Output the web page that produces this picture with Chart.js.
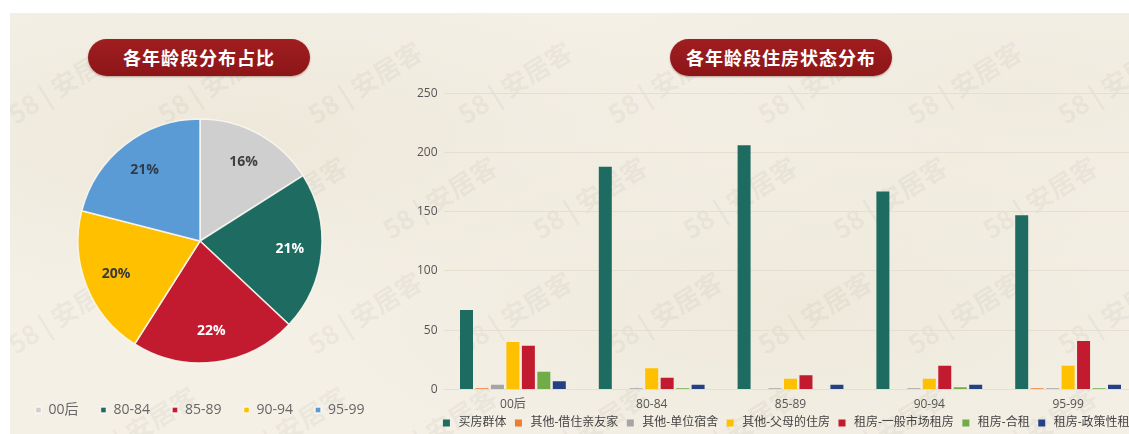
<!DOCTYPE html>
<html lang="zh-CN">
<head>
  <meta charset="UTF-8" />
  <title>各年龄段住房状态</title>
  <script src="https://cdn.jsdelivr.net/npm/chart.js"></script>
  <style>
    html, body {
      margin: 0;
      padding: 0;
      background: #fff;
    }
    body {
      width: 1129px;
      height: 434px;
      overflow: hidden;
      position: relative;
      font-family: "Noto Sans CJK SC", sans-serif;
    }
    .paper {
      position: absolute;
      left: 10px;
      top: 13px;
      right: 0;
      bottom: 0;
      overflow: hidden;
      background:
        radial-gradient(ellipse at 20% 30%, rgba(228, 220, 200, 0.4), transparent 40%),
        radial-gradient(ellipse at 70% 70%, rgba(228, 220, 200, 0.35), transparent 45%),
        radial-gradient(ellipse at 90% 20%, rgba(232, 224, 206, 0.3), transparent 35%),
        #f4f0e6;
    }
    .wm {
      position: absolute;
      color: rgba(110, 100, 90, 0.07);
      font: bold 26px "Noto Sans CJK SC", sans-serif;
      transform: rotate(-32deg);
      white-space: nowrap;
    }
    .pill {
      position: absolute;
      top: 39px;
      width: 222px;
      height: 37px;
      border-radius: 19px;
      background: linear-gradient(#a01e20, #8c1518);
      box-shadow: 0 1px 2px rgba(90, 20, 20, 0.35);
      color: #fff;
      font: bold 18px "Noto Sans CJK SC", sans-serif;
      line-height: 37px;
      text-align: center;
      letter-spacing: 1px;
    }
    #pieBox { position: absolute; left: -10px; top: 101px; }
    #barBox { position: absolute; left: 395px; top: 80px; }
  </style>
</head>
<body>
  <div class="paper" id="paper"></div>
  <div class="pill" style="left: 88px;">各年龄段分布占比</div>
  <div class="pill" style="left: 670px;">各年龄段住房状态分布</div>
  <div id="pieBox"><canvas id="pieChart" width="420" height="333"></canvas></div>
  <div id="barBox"><canvas id="barChart" width="792" height="359"></canvas></div>

  <script>
    // 年龄段
    const ageGroups = ['00后', '80-84', '85-89', '90-94', '95-99'];

    // 饼图：各年龄段占比 (%)
    const pieValues = [16, 21, 22, 20, 21];
    const pieColors = ['#d0cfcf', '#1e6b61', '#c21a2e', '#ffc000', '#5b9bd5'];
    const pieLabelColors = ['#404040', '#ffffff', '#ffffff', '#3a3a3a', '#2f3b4c'];

    // 柱状图：住房状态
    const housingTypes = ['买房群体', '其他-借住亲友家', '其他-单位宿舍', '其他-父母的住房', '租房-一般市场租房', '租房-合租', '租房-政策性租房'];
    const buyers      = [67, 188, 206, 167, 147];
    const withFriends = [1, 0, 0, 0, 1];
    const dormitory   = [4, 1, 1, 1, 1];
    const withParents = [40, 18, 9, 9, 20];
    const marketRent  = [37, 10, 12, 20, 41];
    const sharedRent  = [15, 1, 0, 2, 1];
    const policyRent  = [7, 4, 4, 4, 4];
    const barColors = ['#1e6b61', '#ed7d31', '#a5a5a5', '#ffc000', '#c21a2e', '#70ad47', '#244185'];
    const yTicks = [0, 50, 100, 150, 200, 250];

    // 水印
    const paper = document.getElementById('paper');
    for (let row = 0; row < 4; row++) {
      for (let col = 0; col < 9; col++) {
        const wm = document.createElement('div');
        wm.className = 'wm';
        wm.textContent = '58 | 安居客';
        wm.style.left = (col * 150 - 10 + (row % 2) * 75) + 'px';
        wm.style.top = (row * 115 + 50) + 'px';
        paper.appendChild(wm);
      }
    }

    const fontFamily = '"Open Sans", "Noto Sans CJK SC", sans-serif';

    // 饼图百分比标签
    const pieLabels = {
      id: 'pieLabels',
      afterDatasetsDraw(chart) {
        const ctx = chart.ctx;
        const meta = chart.getDatasetMeta(0);
        ctx.save();
        ctx.font = 'bold 14px ' + fontFamily;
        ctx.textAlign = 'center';
        ctx.textBaseline = 'middle';
        meta.data.forEach((arc, i) => {
          const p = arc.getProps(['x', 'y', 'startAngle', 'endAngle', 'outerRadius'], true);
          const mid = (p.startAngle + p.endAngle) / 2;
          const r = p.outerRadius * 0.74;
          ctx.fillStyle = pieLabelColors[i];
          ctx.fillText(pieValues[i] + '%', p.x + Math.cos(mid) * r, p.y + Math.sin(mid) * r);
        });
        ctx.restore();
      }
    };

    new Chart(document.getElementById('pieChart'), {
      type: 'pie',
      data: {
        labels: ageGroups,
        datasets: [{
          data: pieValues,
          backgroundColor: pieColors,
          borderColor: 'rgba(250, 247, 240, 0.9)',
          borderWidth: 1.5,
          radius: 122
        }]
      },
      options: {
        responsive: false,
        animation: false,
        layout: { padding: { bottom: 7 } },
        plugins: {
          legend: {
            position: 'bottom',
            labels: {
              boxWidth: 6,
              boxHeight: 6,
              padding: 22,
              color: '#666',
              font: { size: 14, family: fontFamily }
            }
          },
          tooltip: { enabled: false }
        }
      },
      plugins: [pieLabels]
    });

    const seriesData = [buyers, withFriends, dormitory, withParents, marketRent, sharedRent, policyRent];

    new Chart(document.getElementById('barChart'), {
      type: 'bar',
      data: {
        labels: ageGroups,
        datasets: housingTypes.map((name, i) => ({
          label: name,
          data: seriesData[i],
          backgroundColor: barColors[i],
          pointStyle: 'rect',
          categoryPercentage: 0.78,
          barPercentage: 0.84
        }))
      },
      options: {
        responsive: false,
        animation: false,
        layout: { padding: { top: 12 } },
        scales: {
          x: {
            grid: { display: false, drawTicks: false },
            border: { display: false },
            ticks: { color: '#555', padding: 7.5, font: { size: 12, family: fontFamily } },
            // 不保留标签下方的额外间距
            afterFit(scale) { scale.height = 21.5; }
          },
          y: {
            min: yTicks[0],
            max: yTicks[yTicks.length - 1],
            ticks: { stepSize: 50, color: '#555', padding: 6, font: { size: 12, family: fontFamily } },
            grid: { color: '#e5dfd1', drawTicks: false },
            border: { display: false },
            afterFit(scale) { scale.width = 48.5; }
          },
          // 右侧留白，让图例居中位置与原图一致
          yPad: {
            type: 'linear',
            axis: 'y',
            position: 'right',
            grid: { display: false, drawTicks: false },
            ticks: { display: false },
            border: { display: false },
            afterFit(scale) { scale.width = 49.5; }
          }
        },
        plugins: {
          legend: {
            position: 'bottom',
            labels: {
              usePointStyle: true,
              boxWidth: 12,
              boxHeight: 7,
              padding: 6,
              color: '#444',
              font: { size: 12, family: fontFamily }
            }
          },
          tooltip: { enabled: false }
        }
      }
    });
  </script>
</body>
</html>
